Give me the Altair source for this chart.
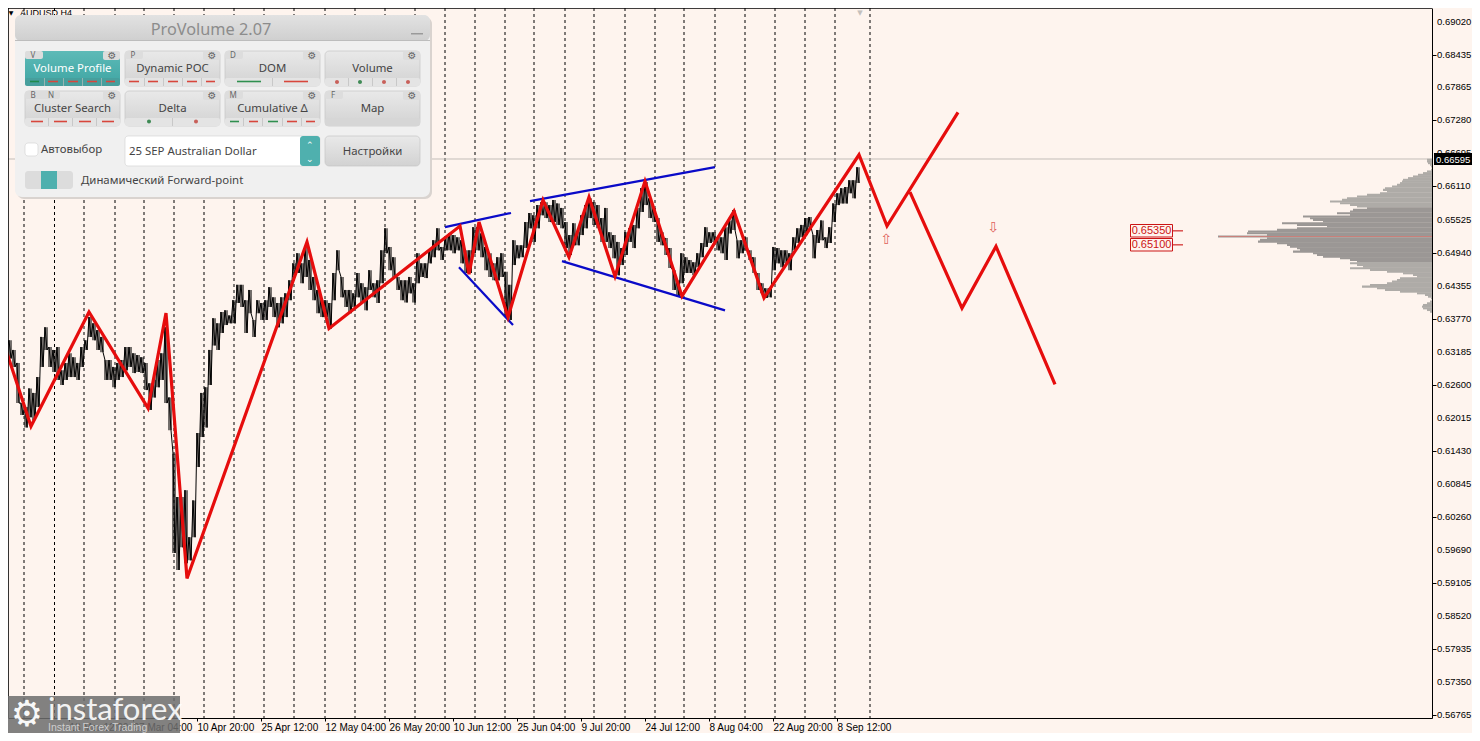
import altair as alt
import pandas as pd

# ---------- chart values ----------
SYMBOL = "AUDUSD,H4"
LAST_PRICE = 0.66595
PRICE_TICKS = [0.69020, 0.68435, 0.67865, 0.67280, 0.66695, 0.66110, 0.65525, 0.64940, 0.64355, 0.63770,
               0.63185, 0.62600, 0.62015, 0.61430, 0.60845, 0.60260, 0.59690, 0.59105, 0.58520, 0.57935,
               0.57350, 0.56765]
TIME_LABELS = ["25 Feb 2025", "13 Mar 12:00", "27 Mar 04:00", "10 Apr 20:00", "25 Apr 12:00", "12 May 04:00",
               "26 May 20:00", "10 Jun 12:00", "25 Jun 04:00", "9 Jul 20:00", "24 Jul 12:00", "8 Aug 04:00",
               "22 Aug 20:00", "8 Sep 12:00"]
TIME_TICKS = [5, 69, 133, 197, 261, 325, 389, 453, 517, 581, 645, 709, 773, 837]
SEPARATORS = [24, 54.5, 84, 115, 144, 174, 204, 234, 264, 294, 325, 355, 385, 415, 445, 475, 505, 534, 565,
              594, 625, 655, 684, 715, 745, 775, 805, 835, 870]

# high / low of each 4-bar column, in pips (1e-4)
HIGH = [6352,6339,6322,6299,6228,6221,6254,6246,6274,6345,6362,6327,6322,6327,6286,6299,6316,6309,6299,6327,
        6339,6380,6369,6357,6345,6304,6304,6292,6299,6304,6327,6327,6316,6313,6309,6299,6263,6269,6304,6316,
        6362,6238,6139,6062,6062,6074,5991,6056,6175,6246,6256,6322,6378,6369,6389,6392,6383,6410,6437,6437,
        6410,6428,6375,6410,6405,6410,6433,6415,6405,6415,6422,6445,6475,6493,6475,6504,6481,6451,6428,6410,
        6410,6405,6458,6498,6451,6428,6428,6422,6458,6440,6433,6463,6440,6445,6498,6537,6504,6486,6451,6445,
        6445,6451,6440,6493,6475,6475,6498,6516,6537,6504,6521,6528,6525,6521,6516,6498,6498,6539,6539,6528,
        6504,6493,6475,6486,6493,6460,6437,6516,6507,6507,6548,6564,6560,6578,6583,6583,6578,6587,6581,6573,
        6548,6525,6546,6530,6560,6578,6590,6583,6578,6555,6573,6530,6525,6513,6502,6530,6537,6543,6573,6608,
        6619,6590,6573,6555,6530,6520,6502,6463,6445,6493,6486,6481,6477,6493,6511,6539,6530,6530,6521,6521,
        6539,6551,6569,6516,6516,6521,6498,6486,6458,6440,6431,6431,6504,6502,6498,6498,6493,6521,6537,6543,
        6555,6557,6525,6534,6551,6521,6539,6581,6599,6608,6610,6622,6622,6645]
LOW = [6327,6307,6292,6228,6207,6185,6203,6198,6221,6292,6322,6292,6283,6269,6260,6269,6274,6274,6269,6292,
       6322,6345,6339,6322,6318,6269,6269,6256,6269,6274,6286,6292,6281,6283,6281,6251,6216,6238,6256,6269,
       6228,6180,5963,5933,5973,5945,5950,5991,6115,6168,6185,6260,6330,6322,6352,6366,6369,6369,6405,6398,
       6352,6387,6345,6387,6375,6375,6398,6380,6362,6369,6380,6410,6451,6458,6440,6451,6428,6410,6387,6380,
       6380,6360,6410,6463,6415,6398,6387,6398,6415,6405,6392,6428,6415,6405,6440,6493,6463,6451,6428,6410,
       6406,6422,6406,6440,6451,6449,6475,6486,6498,6481,6498,6498,6493,6498,6475,6458,6458,6493,6498,6486,
       6463,6451,6445,6445,6451,6380,6375,6472,6484,6486,6502,6537,6513,6537,6560,6555,6548,6548,6543,6537,
       6502,6490,6507,6507,6525,6537,6555,6543,6537,6513,6513,6502,6484,6454,6472,6490,6513,6502,6537,6566,
       6578,6555,6548,6513,6507,6490,6467,6428,6417,6440,6458,6458,6454,6468,6486,6504,6511,6513,6498,6493,
       6481,6528,6534,6484,6493,6498,6481,6458,6428,6422,6414,6415,6463,6475,6468,6475,6463,6498,6511,6521,
       6525,6539,6484,6511,6516,6502,6511,6548,6578,6581,6581,6599,6590,6617]

# zigzag and trend lines: (bar, pips)
ZIGZAG = [(5,6327),(31,6187),(89,6389),(148,6219),(166,6387),(187,5918),(307,6513),(329,6360),(460,6541),
          (469,6456),(479,6548),(508,6380),(543,6587),(569,6486),(589,6592),(615,6452),(645,6620),(682,6417),
          (734,6567),(764,6414),(859,6667),(887,6541),(958,6742)]
FORECAST = [(910,6601),(962,6396),(996,6505),(1055,6261)]
TRENDS = {"a": [(445,6539),(511,6564)], "b": [(459,6468),(513,6366)],
          "c": [(530,6585),(715,6645)], "d": [(562,6479),(725,6392)]}

# volume profile: width of each level, top to bottom
PROFILE = [5,5,4,2,1,0,1,5,9,14,19,24,29,30,32,35,40,47,49,45,52,65,75,85,90,102,92,82,75,65,79,82,95,82,129,
           122,119,109,150,135,105,135,155,184,185,165,214,165,172,174,155,145,142,135,132,139,119,115,109,92,
           82,75,82,75,69,82,62,45,29,19,15,32,35,40,45,62,70,55,47,32,15,7,4,1,0,2,5,9,10,9,5,2,0,0]
PROFILE_TOP = 0.66577
PROFILE_STEP = 0.000295
VALUE_AREA = (29, 61)
POC_PRICE = 0.65225

# ---------- scales ----------
BG = "#fef4ee"
P_TOP, P_BOT = 0.692643, 0.567134
xs = alt.Scale(domain=[8, 1432], nice=False, zero=False)
ys = alt.Scale(domain=[P_BOT, P_TOP], nice=False, zero=False)
X = lambda f="bar": alt.X(f"{f}:Q", scale=xs, title=None)
Y = lambda f="price": alt.Y(f"{f}:Q", scale=ys, title=None)
FONT = "Liberation Sans"
UI = "Noto Sans"

# base layer with the axes
axis_df = pd.DataFrame({"bar": [8, 1432], "price": [P_BOT, P_BOT]})
base = alt.Chart(axis_df).mark_point(opacity=0).encode(
    x=alt.X("bar:Q", scale=xs, title=None, axis=alt.Axis(
        values=TIME_TICKS, grid=False, tickSize=3, tickColor="#000", domainColor="#000", labelColor="#000",
        labelFont=FONT, labelFontSize=10, labelAlign="left", labelPadding=1, labelOverlap=False, labelFlush=False,
        labelBound=False, labelExpr="%s[round((datum.value-5)/64)]" % str(TIME_LABELS))),
    y=alt.Y("price:Q", scale=ys, title=None, axis=alt.Axis(
        orient="right", values=PRICE_TICKS, labels=False, grid=False, tickSize=4, tickColor="#000",
        domainColor="#000")),
)

tick_df = pd.DataFrame({"bar": [1437] * len(PRICE_TICKS), "price": PRICE_TICKS,
                        "t": ["%.5f" % p for p in PRICE_TICKS]})
price_labels = alt.Chart(tick_df).mark_text(align="left", baseline="middle", font=FONT, fontSize=9.5,
                                            color="#000").encode(x=X(), y=Y(), text="t:N")

vlines = alt.Chart(pd.DataFrame({"bar": SEPARATORS})).mark_rule(
    color="#000", strokeDash=[3, 3], strokeWidth=1).encode(x=X())

price_line = alt.Chart(pd.DataFrame({"price": [LAST_PRICE]})).mark_rule(
    color="#c3bdb8", strokeWidth=1).encode(y=Y())

rows = []
for i, v in enumerate(PROFILE):
    p = PROFILE_TOP - i * PROFILE_STEP
    rows.append({"left": 1432 - v, "right": 1432, "p0": p + PROFILE_STEP * 0.75, "p1": p - PROFILE_STEP * 0.5,
                 "c": "#9b9795" if VALUE_AREA[0] <= i <= VALUE_AREA[1] else "#aeaba7"})
profile = alt.Chart(pd.DataFrame(rows)).mark_rect().encode(
    x=X("left"), x2="right:Q", y=Y("p0"), y2="p1:Q", fill=alt.Fill("c:N", scale=None))
poc = alt.Chart(pd.DataFrame({"bar": [1219], "end": [1432], "price": [POC_PRICE]})).mark_rule(
    color="#c9807a", strokeWidth=1).encode(x=X(), x2="end:Q", y=Y())

hl, cols = [], []
for i, (h, l) in enumerate(zip(HIGH, LOW)):
    hl.append({"bar": 5 + 4 * i, "price": h / 1e4})
    hl.append({"bar": 7 + 4 * i, "price": l / 1e4})
    for off in (5, 7):
        cols.append({"bar": off + 4 * i, "price": h / 1e4, "low": l / 1e4})
candles = alt.Chart(pd.DataFrame(hl)).mark_line(color="#000", strokeWidth=1.0, clip=True).encode(x=X(), y=Y())
columns = alt.Chart(pd.DataFrame(cols)).mark_rule(color="#000", strokeWidth=1.1, clip=True).encode(x=X(), y=Y(), y2="low:Q")

def polyline(points, color, width):
    df = pd.DataFrame([{"bar": b, "price": p / 1e4} for b, p in points])
    return alt.Chart(df).mark_line(color=color, strokeWidth=width, clip=True, strokeJoin="miter").encode(x=X(), y=Y())

trend_layers = [polyline(v, "#0a0ac8", 2.2) for v in TRENDS.values()]
zz = polyline(ZIGZAG, "#e60d0d", 3.2)
fc = polyline(FORECAST, "#e60d0d", 3.2)

# ---------- pixel-placed decoration ----------
OFF = 8
def rects(rows, fill=None, **mark):
    df = pd.DataFrame([{"x": r[0] - OFF, "x2": r[1] - OFF, "y": r[2] - OFF, "y2": r[3] - OFF,
                        "c": r[4] if len(r) > 4 else "#000"} for r in rows])
    enc = dict(x=alt.X("x:Q", scale=None), x2="x2:Q", y=alt.Y("y:Q", scale=None), y2="y2:Q")
    if fill is None:
        enc["fill"] = alt.Fill("c:N", scale=None)
        return alt.Chart(df).mark_rect(**mark).encode(**enc)
    return alt.Chart(df).mark_rect(fill=fill, **mark).encode(**enc)

def texts(rows, align="left", font=UI, **mark):
    df = pd.DataFrame([{"x": r[0] - OFF, "y": r[1] - OFF, "t": r[2], "s": r[3], "c": r[4]} for r in rows])
    return alt.Chart(df).mark_text(align=align, baseline="middle", font=font, **mark).encode(
        x=alt.X("x:Q", scale=None), y=alt.Y("y:Q", scale=None), text="t:N",
        size=alt.Size("s:Q", scale=None), color=alt.Color("c:N", scale=None))

def grad(a, b):
    return alt.Gradient(gradient="linear", x1=0, x2=0, y1=0, y2=1,
                        stops=[alt.GradientStop(color=a, offset=0), alt.GradientStop(color=b, offset=1)])

BUTTON_X = [25, 125, 225, 325]
ROW_Y = [(51, 86), (91, 126)]
grid_buttons = [(bx, bx + 95, y0, y1) for (y0, y1) in ROW_Y for bx in BUTTON_X]

panel = [
    rects([(17, 432, 17, 199, "#d9d3cf")], cornerRadius=7),
    rects([(15, 430, 15, 197, "#f0f0f0")], cornerRadius=7),
    rects([(15, 430, 15, 41)], fill=grad("#e2e2e2", "#cfcfcf"), cornerRadius=6),
    rects([(15, 430, 40, 41, "#bdbdbd")]),
    rects(grid_buttons[1:], fill=grad("#e9e9e9", "#d2d2d2"), cornerRadius=4, stroke="#c6c6c6", strokeWidth=0.7),
    rects([grid_buttons[0][:4]], fill=grad("#5dbab7", "#3fa5a3"), cornerRadius=4),
    # button footer strips
    rects([(25, 120, 78, 86, "#479f9d"), (125, 220, 78, 86, "#e4e4e4"), (225, 320, 78, 86, "#e4e4e4"),
           (325, 420, 78, 86, "#e4e4e4"), (25, 120, 118, 126, "#e4e4e4"), (125, 220, 118, 126, "#e4e4e4"),
           (225, 320, 118, 126, "#e4e4e4"), (325, 420, 118, 126, "#d6d6d6")], cornerRadius=2),
    # cell separators
    rects([(s, s + 0.7, 78, 86, "#bcbcbc") for s in (44, 63, 82, 101, 144, 163, 182, 201, 272, 348, 372, 396)] +
          [(s, s + 0.7, 118, 126, "#bcbcbc") for s in (48, 72, 96, 172, 243, 262, 282, 301)]),
    # tabs
    rects([(25, 43, 51, 59, "#dddddd"), (125, 143, 51, 59, "#dddddd"), (225, 243, 51, 59, "#dddddd"),
           (25, 60, 91, 99, "#dddddd"), (225, 243, 91, 99, "#dddddd"), (325, 343, 91, 99, "#dddddd")] +
          [(bx + 78, bx + 95, y0, y0 + 9, "#dddddd") for (y0, _) in ROW_Y for bx in BUTTON_X], cornerRadius=2),
    # red / green dashes
    rects([(30, 39, 80.7, 82.3, "#1f8a4c")] +
          [(a, b, 80.7, 82.3, "#d8463c") for a, b in ((48, 58), (68, 78), (87, 97), (106, 115), (129, 139), (148, 158),
                                                   (168, 178), (187, 197), (206, 215), (284, 308))] +
          [(237, 261, 80.7, 82.3, "#2f8f4f")] +
          [(a, b, 120.7, 122.3, "#d8463c") for a, b in ((31, 43), (54, 67), (79, 91), (102, 114), (249, 258), (287, 297),
                                                    (306, 315))] +
          [(a, b, 120.7, 122.3, "#2f8f4f") for a, b in ((230, 239), (268, 278))]),
    # dots
    rects([(335, 339, 80, 84, "#c8605a"), (358, 362, 80, 84, "#3f8a55"), (382, 386, 80, 84, "#c8605a"),
           (406, 410, 80, 84, "#c8605a"), (147, 151, 119.5, 123.5, "#3f8a55"), (194, 198, 119.5, 123.5, "#c8605a")],
          cornerRadius=2),
    # lower controls
    rects([(25, 38, 143, 156, "#ffffff"), (125, 320, 136, 166, "#ffffff")], cornerRadius=3, stroke="#d5d5d5", strokeWidth=0.7),
    rects([(300, 320, 136, 166, "#4fb0ae")], cornerRadius=3),
    rects([(325, 420, 136, 166)], fill=grad("#e9e9e9", "#d2d2d2"), cornerRadius=4, stroke="#c6c6c6", strokeWidth=0.7),
    rects([(25, 73, 171, 189, "#dcdcdc")], cornerRadius=3),
    rects([(41, 57, 171, 189, "#4fb0ae")]),
    rects([(411, 423, 33, 34.5, "#9a9a9a")]),
    texts([(211, 30, "ProVolume 2.07", 16.3, "#8c8c8c"),
           (72.5, 69, "Volume Profile", 11.4, "#ffffff"),
           (172.5, 69, "Dynamic POC", 11.4, "#444444"),
           (272.5, 69, "DOM", 11.4, "#444444"),
           (372.5, 69, "Volume", 11.4, "#444444"),
           (72.5, 109, "Cluster Search", 11.4, "#444444"),
           (172.5, 109, "Delta", 11.4, "#444444"),
           (272.5, 109, "Cumulative \u0394", 11.4, "#444444"),
           (372.5, 109, "Map", 11.4, "#444444"),
           (372.5, 152, "\u041d\u0430\u0441\u0442\u0440\u043e\u0439\u043a\u0438", 11.4, "#444444"),
           (310, 145, "\u2303", 9, "#ffffff"),
           (310, 159, "\u2304", 9, "#ffffff"),
           (33, 56, "V", 8, "#666666"), (133, 56, "P", 8, "#666666"), (233, 56, "D", 8, "#666666"),
           (33, 96, "B", 8, "#666666"), (51, 96, "N", 8, "#666666"), (233, 96, "M", 8, "#666666"),
           (333, 96, "F", 8, "#666666")], align="center"),
    texts([(bx + 87, y0 + 5, "\u2699", 10, "#666666") for (y0, _) in ROW_Y for bx in BUTTON_X],
          align="center", font="DejaVu Sans"),
    texts([(41, 150, "\u0410\u0432\u0442\u043e\u0432\u044b\u0431\u043e\u0440", 11.4, "#444444"),
           (129, 152, "25 SEP Australian Dollar", 11.4, "#444444"),
           (81, 181, "\u0414\u0438\u043d\u0430\u043c\u0438\u0447\u0435\u0441\u043a\u0438\u0439 Forward-point", 11.4, "#444444")]),
]

labels = [
    rects([(1130.5, 1172.5, 224.5, 237, BG), (1130.5, 1172.5, 238.5, 251, BG)], stroke="#cc1414", strokeWidth=1),
    rects([(1172.5, 1183, 230.3, 231.4, "#cc1414"), (1172.5, 1183, 244.3, 245.4, "#cc1414")]),
    texts([(1151.5, 231, "0.65350", 11, "#cc1414"), (1151.5, 245, "0.65100", 11, "#cc1414")], align="center", font=FONT),
    texts([(886, 240, "\u21e7", 14, "#e0625a"), (993, 228, "\u21e9", 14, "#e0625a")], align="center", font="DejaVu Sans"),
]

top_bits = [
    texts([(20, 12.5, SYMBOL, 9, "#000000")], font=FONT),
    texts([(11, 13, "\u25bc", 6, "#000000"), (860, 13, "\u25bc", 7, "#c4c0bc")], align="center", font="DejaVu Sans"),
    rects([(8, 1432, 8, 8.8, "#000000"), (8, 8.8, 8, 718, "#000000")]),
]

price_box = [
    rects([(1434, 1472, 153, 165, "#000000")]),
    texts([(1436, 159.5, "0.66595", 9.5, "#ffffff")], font=FONT),
]

watermark = [
    rects([(8, 180, 696, 733, "#6e6e6e")], opacity=0.86),
    texts([(27, 715, "\u2699", 36, "#ffffff")], align="center", font="DejaVu Sans", opacity=0.95),
    texts([(48, 711, "instaforex", 31, "#ffffff")], font="Lato", opacity=0.9),
    texts([(48, 728, "Instant Forex Trading", 10.5, "#d8d8d8")], font=FONT, opacity=0.9),
]

chart = alt.layer(
    base, vlines, price_line, profile, poc, columns, candles, *trend_layers, zz, fc,
    price_labels, *top_bits, *labels, *panel, *price_box, *watermark,
).properties(
    width=1424, height=710, background=BG, autosize="none",
    padding={"left": 0, "top": 0, "right": 40, "bottom": 15},
).configure_view(stroke=None)

chart.save("out.html", embed_options={"renderer": "svg", "actions": False})
